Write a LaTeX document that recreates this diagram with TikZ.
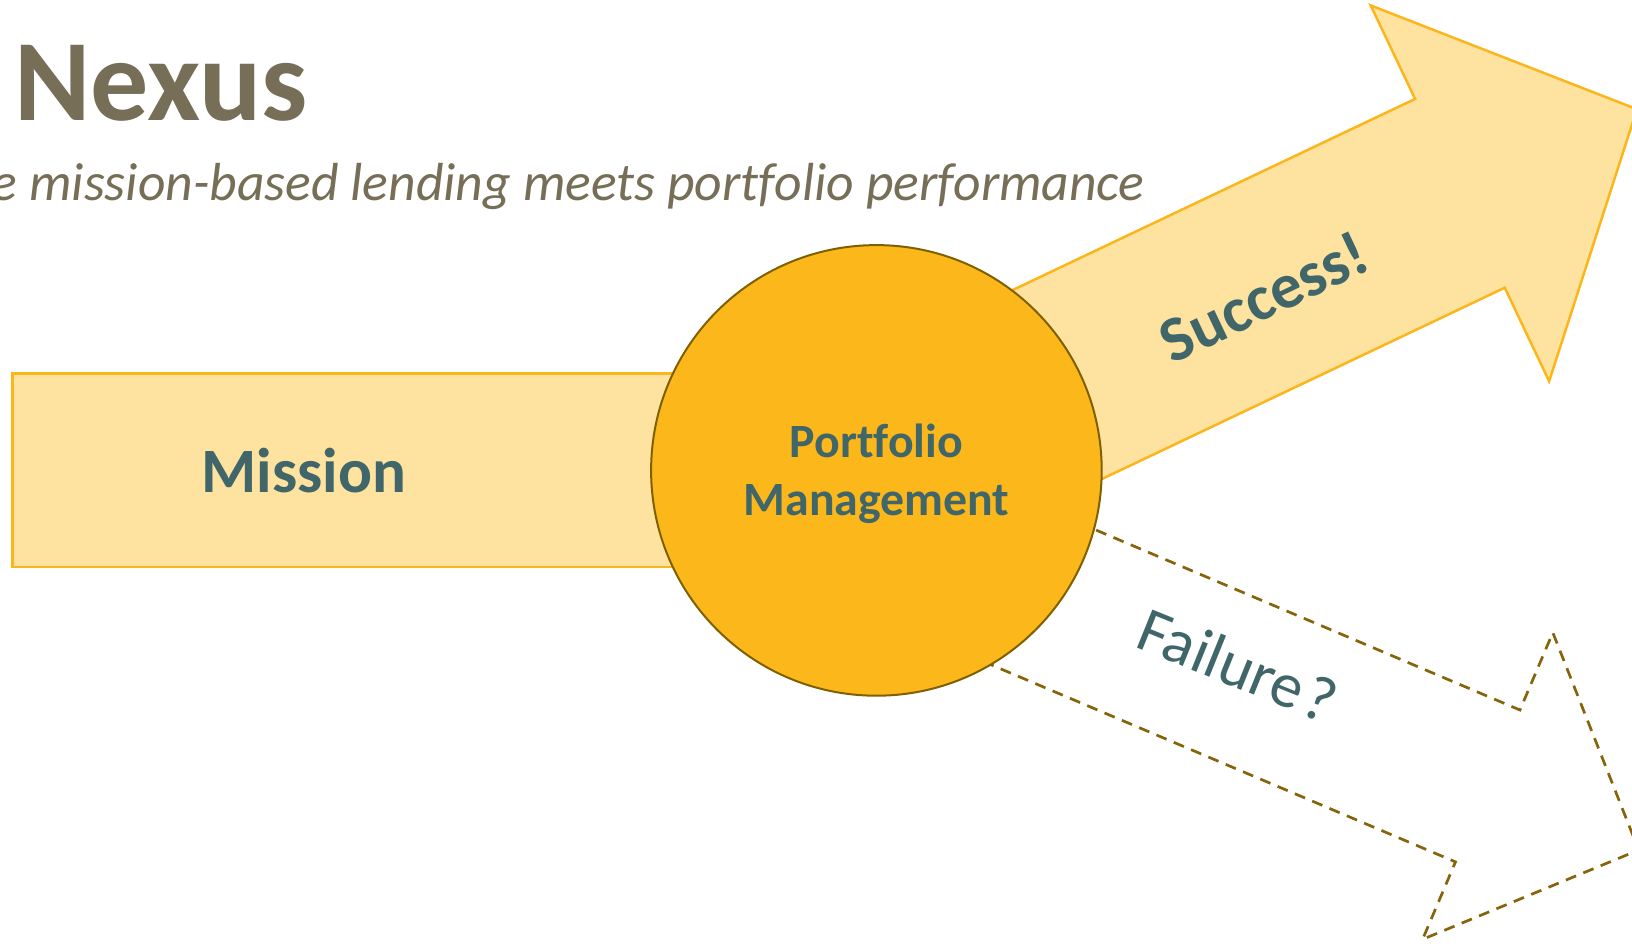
\documentclass[tikz,border=0pt]{standalone}
\usepackage{fontspec}
\setmainfont{Carlito}[Ligatures=NoCommon]
\definecolor{goldline}{HTML}{FBB61C}
\definecolor{goldlight}{HTML}{FEE2A0}
\definecolor{goldfill}{HTML}{FCB81A}
\definecolor{golddark}{HTML}{7F6000}
\definecolor{dashgold}{HTML}{86640A}
\definecolor{txtteal}{HTML}{40666A}
\definecolor{titlebrown}{HTML}{776E58}
\begin{document}
\begin{tikzpicture}[x=0.5pt,y=-0.5pt,
  barstyle/.style={draw=goldline, fill=goldlight, line width=1.25pt},
  successarrow/.style={draw=goldline, fill=goldlight, line width=1.25pt, line join=miter},
  failarrow/.style={draw=dashgold, line width=1.35pt, dash pattern=on 5.5pt off 3.9pt},
  pmcircle/.style={circle, draw=golddark, fill=goldfill, line width=1pt, minimum size=225.3pt, inner sep=0pt},
  label/.style={text=txtteal, inner sep=0pt}
]
\useasboundingbox (0,0) rectangle (1632,943);
\clip (0,0) rectangle (1632,943);
\fill[white] (0,0) rectangle (1632,943);
\coordinate (c) at (876.4,470.4);
% mission bar
\node[barstyle, minimum width=431.75pt, minimum height=96.8pt, inner sep=0pt] (missionbar) at (444.25,470.4) {};
% success arrow
\begin{scope}[shift={(c)}, rotate=25.4]
\draw[successarrow] (0,-104.5) -- (646,-104.5) -- (646,-208) -- (842,0) -- (646,208) -- (646,104.5) -- (0,104.5) -- cycle;
\end{scope}
% failure arrow
\begin{scope}[shift={(c)}, rotate=-23]
\draw[failarrow] (0,-30.9) -- (686,-30.9) -- (686,-115) -- (850,51.6) -- (686,218.2) -- (686,134.1) -- (0,134.1) -- cycle;
\end{scope}
% circle
\node[pmcircle] (pm) at (c) {};
% texts
\node[anchor=base west, text=titlebrown, inner sep=0pt, font=\fontsize{58}{60}\selectfont\bfseries] (title) at (14,120) {Nexus};
\node[anchor=base east, text=titlebrown, inner sep=0pt, font=\fontsize{26.8}{30}\selectfont\itshape] (subtitle) at (1145,200) {e mission-based lending meets portfolio performance};
\node[label, anchor=base, font=\fontsize{31.6}{36}\selectfont\bfseries] (missionlabel) at (304,492) {Mission};
\node[label, align=center, font=\fontsize{23.9}{29}\selectfont\bfseries] (pmlabel) at (876.4,474) {Portfolio\\Management};
\node[label, rotate=25.4, font=\fontsize{32}{36}\selectfont\bfseries] (succ) at (1264,297) {Success!};
\node[label, rotate=-22, font=\fontsize{32}{36}\selectfont] (fail) at (1238,665) {Failure\kern2pt?};
\end{tikzpicture}
\end{document}
